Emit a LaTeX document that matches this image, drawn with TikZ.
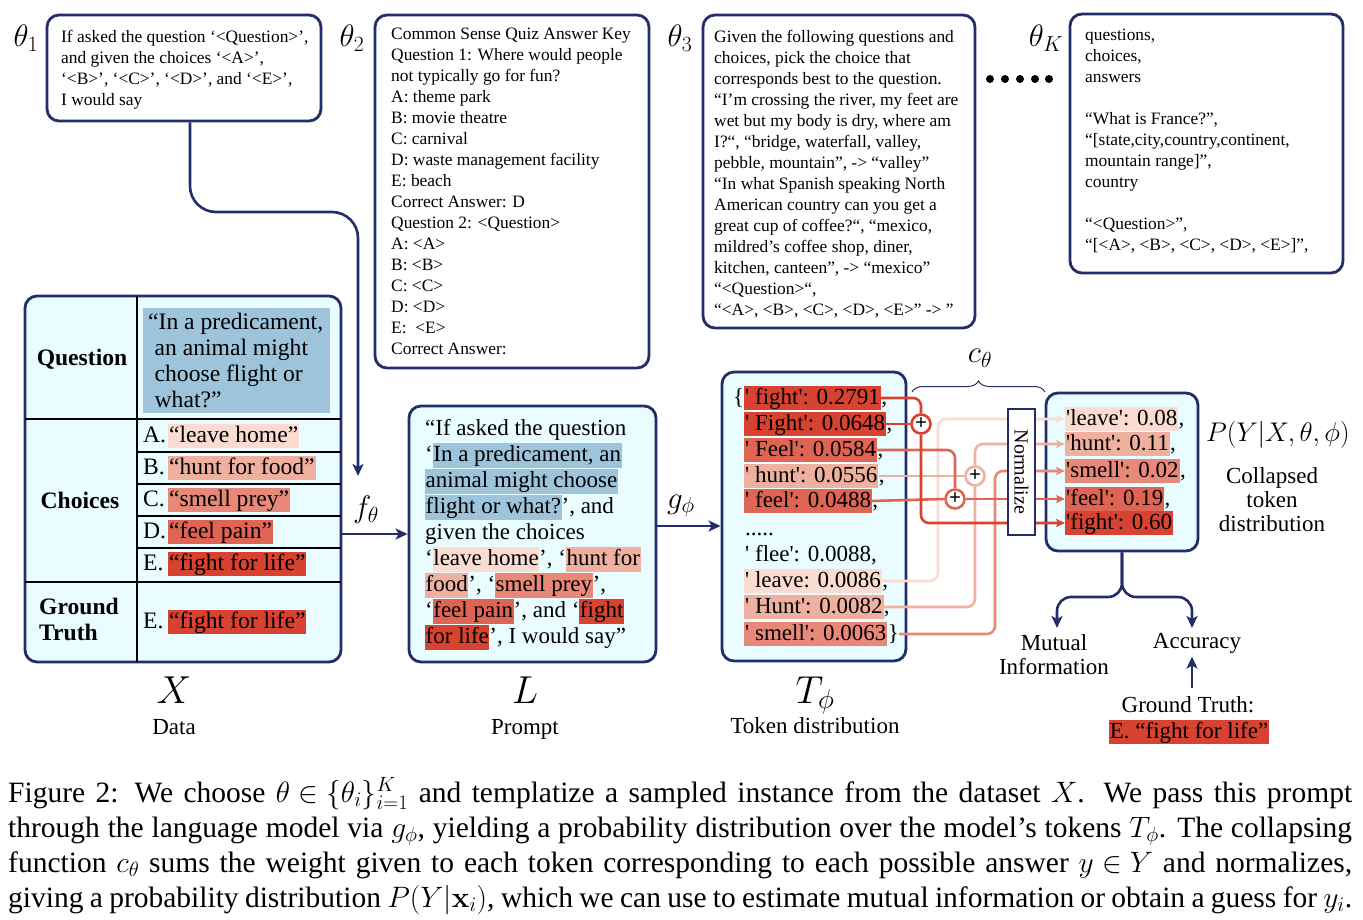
\RequirePackage{fix-cm}
\documentclass[tikz,border=0pt]{standalone}
\usepackage[no-math]{fontspec}
\setmainfont{Liberation Serif}
\newfontfamily\tokfont{Liberation Serif}
\usetikzlibrary{arrows.meta,decorations.pathreplacing,calc}
\definecolor{navy}{RGB}{35,45,105}
\definecolor{boxfill}{RGB}{233,252,255}
\definecolor{qblue}{RGB}{158,196,219}
\definecolor{cLeave}{RGB}{250,220,208}
\definecolor{cHunt}{RGB}{240,176,160}
\definecolor{cSmell}{RGB}{232,136,120}
\definecolor{cFeel}{RGB}{224,100,84}
\definecolor{cFight}{RGB}{216,66,48}
\newcommand{\fsBig}{\fontsize{23}{26}\selectfont}
\newcommand{\fsTab}{\fontsize{23.6}{26}\selectfont}
\newcommand{\fsSmall}{\fontsize{17.4}{21}\selectfont}
\newcommand{\hlbox}[2]{{\setlength{\fboxsep}{0.5pt}\colorbox{#1}{\rule[-6pt]{0pt}{24pt}#2}}}
\begin{document}
\begin{tikzpicture}[x=1pt,y=-1pt, font=\fsBig,
  box/.style={draw=navy, line width=2.8pt, rounded corners=12pt, inner sep=0pt},
  hl/.style={inner xsep=1pt, inner ysep=0pt, text height=18pt, text depth=6pt, anchor=base west},
  txt/.style={inner sep=0pt, anchor=base west},
  tok/.style={font=\fsBig\tokfont},
  tab/.style={font=\fsTab},
  conn/.style={line width=2.6pt, rounded corners=8pt},
  narrow/.style={draw=navy, line width=2.6pt, -{Stealth[length=12pt,width=11pt,inset=3pt]}},
  rtip/.style={-{Stealth[length=9pt,width=8pt,inset=2pt]}},
  plusc/.style={circle, draw, fill=white, line width=2.6pt, minimum size=19pt, inner sep=0pt, font=\fontsize{21}{21}\selectfont\bfseries},
  grid/.style={line width=2pt, black},
  lab/.style={font=\fontsize{31}{33}\selectfont},
]
\useasboundingbox (0,0) rectangle (1363,919);

% ---------- top template boxes ----------
\node[box, fill=white, minimum width=274pt, minimum height=106pt] (t1box) at (184,68) {};
\node[txt] (t1txt) at (61,42) {\parbox[t]{300pt}{\fsSmall If asked the question ‘<Question>’,\\ and given the choices ‘<A>’,\\ ‘<B>’, ‘<C>’, ‘<D>’, and ‘<E>’,\\ I would say}};
\node[lab] (th1) at (26,38) {$\theta_1$};

\node[box, fill=white, minimum width=274pt, minimum height=353pt] (t2box) at (512,191.5) {};
\node[txt] (t2txt) at (391,39) {\parbox[t]{300pt}{\fsSmall Common Sense Quiz Answer Key\\ Question 1: Where would people\\ not typically go for fun?\\ A: theme park\\ B: movie theatre\\ C: carnival\\ D: waste management facility\\ E: beach\\ Correct Answer: D\\ Question 2: <Question>\\ A: <A>\\ B: <B>\\ C: <C>\\ D: <D>\\ E:\ \ <E>\\ Correct Answer:}};
\node[lab] (th2) at (352,38) {$\theta_2$};

\node[box, fill=white, minimum width=272pt, minimum height=313pt] (t3box) at (839,171.5) {};
\node[txt] (t3txt) at (714,42) {\parbox[t]{300pt}{\fsSmall Given the following questions and\\ choices, pick the choice that\\ corresponds best to the question.\\ “I’m crossing the river, my feet are\\ wet but my body is dry, where am\\ I?“, “bridge, waterfall, valley,\\ pebble, mountain”, -> “valley”\\ “In what Spanish speaking North\\ American country can you get a\\ great cup of coffee?“, “mexico,\\ mildred’s coffee shop, diner,\\ kitchen, canteen”, -> “mexico”\\ “<Question>“,\\ “<A>, <B>, <C>, <D>, <E>” -> ”}};
\node[lab] (th3) at (680,38) {$\theta_3$};

\fill (990,79) circle (4pt) (1005,79) circle (4pt) (1020,79) circle (4pt) (1035,79) circle (4pt) (1049,79) circle (4pt);

\node[box, fill=white, minimum width=273pt, minimum height=259pt] (tKbox) at (1206.5,143.5) {};
\node[txt] (tKtxt) at (1085,40) {\parbox[t]{300pt}{\fsSmall questions,\\ choices,\\ answers\\[21pt] “What is France?”,\\ “[state,city,country,continent,\\ mountain range]”,\\ country\\[21pt] “<Question>”,\\ “[<A>, <B>, <C>, <D>, <E>]”,}};
\node[lab] (thK) at (1046,38) {$\theta_K$};

% ---------- main boxes ----------
\node[box, fill=boxfill, minimum width=316pt, minimum height=366pt] (Xbox) at (183,479) {};
\node[box, fill=boxfill, minimum width=247pt, minimum height=256pt] (Lbox) at (532.5,534) {};
\node[box, fill=boxfill, minimum width=184pt, minimum height=289pt] (Tbox) at (814,516.5) {};
\node[box, fill=boxfill, minimum width=152pt, minimum height=158pt] (res) at (1122,472) {};

% ---------- X table ----------
\draw[grid] (137,296) -- (137,662);
\draw[grid] (25,419) -- (341,419);
\draw[grid] (25,582) -- (341,582);
\draw[grid] (137,452) -- (341,452);
\draw[grid] (137,484) -- (341,484);
\draw[grid] (137,516) -- (341,516);
\draw[grid] (137,548) -- (341,548);

\node[fill=qblue, minimum width=187pt, minimum height=105pt, inner sep=0pt] (qhl) at (236.5,360.5) {};
\node[txt, tab] (qtxt) at (148,329) {\parbox[t]{200pt}{“In a predicament,\\ \hspace*{6.5pt}an animal might\\ \hspace*{6.5pt}choose flight or\\ \hspace*{6.5pt}what?”}};
\node[anchor=base, inner sep=0pt, tab] (lq) at (82,365) {\bfseries Question};
\node[anchor=base, inner sep=0pt, tab] (lc) at (80,508) {\bfseries Choices};
\node[txt, tab] (lg) at (39,614) {\parbox[t]{100pt}{\bfseries Ground\\Truth}};

\node[txt, tab] (ca) at (143,442) {A.};
\node[hl, tab, fill=cLeave] (ha) at (168,442) {“leave home”};
\node[txt, tab] (cb) at (143,474) {B.};
\node[hl, tab, fill=cHunt] (hb) at (168,474) {“hunt for food”};
\node[txt, tab] (cc) at (143,506) {C.};
\node[hl, tab, fill=cSmell] (hc) at (168,506) {“smell prey”};
\node[txt, tab] (cd) at (143,538) {D.};
\node[hl, tab, fill=cFeel] (hd) at (168,538) {“feel pain”};
\node[txt, tab] (ce) at (143,570) {E.};
\node[hl, tab, fill=cFight] (he) at (168,570) {“fight for life”};
\node[txt, tab] (cg) at (143,628) {E.};
\node[hl, tab, fill=cFight] (hg) at (168,628) {“fight for life”};

\node[anchor=base] (xl) at (174,703) {\fontsize{39}{40}\selectfont$X$};
\node[anchor=base] (xd) at (174,734) {Data};

% ---------- theta connector and f arrow ----------
\coordinate (c1) at (358,212);
\coordinate (ftip) at (358,476);
\draw[narrow, rounded corners=26pt] ($(t1box.south)+(6,0)$) |- (c1) -- (ftip);
\node[lab] (flab) at (366,510) {$f_\theta$};
\draw[narrow] (Xbox.east |- Lbox.west) -- (Lbox.west);

% ---------- prompt ----------
\node[txt] (ptxt) at (425,435) {\parbox[t]{240pt}{“If asked the question\\ ‘\hlbox{qblue}{In a predicament, an}\\ \hlbox{qblue}{animal might choose}\\ \hlbox{qblue}{flight or what?}’, and\\ given the choices\\ ‘\hlbox{cLeave}{leave home}’, ‘\hlbox{cHunt}{hunt for}\\ \hlbox{cHunt}{food}’, ‘\hlbox{cSmell}{smell prey}’,\\ ‘\hlbox{cFeel}{feel pain}’, and ‘\hlbox{cFight}{fight}\\ \hlbox{cFight}{for life}’, I would say”}};
\node[anchor=base] (ll) at (525,703) {\fontsize{39}{40}\selectfont$L$};
\node[anchor=base] (lp) at (525,734) {Prompt};

\coordinate (gy) at (0,526);
\node[lab] (glab) at (681,506) {$g_\phi$};
\draw[narrow] (Lbox.east |- gy) -- (Tbox.west |- gy);

% ---------- token distribution ----------
\node[txt, tok] (tbr) at (733,404) {\{};
\node[hl, tok, fill=cFight] (tf1) at (744,404) {' fight': 0.2791};
\node[txt, tok] (k1) at (tf1.base east) {,};
\node[hl, tok, fill=cFight] (tF2) at (744,430) {' Fight': 0.0648};
\node[txt, tok] (k2) at (tF2.base east) {,};
\node[hl, tok, fill=cFeel] (tF3) at (744,456) {' Feel': 0.0584};
\node[txt, tok] (k3) at (tF3.base east) {,};
\node[hl, tok, fill=cHunt] (th4) at (744,482) {' hunt': 0.0556};
\node[txt, tok] (k4) at (th4.base east) {,};
\node[hl, tok, fill=cFeel] (tf5) at (744,507) {' feel': 0.0488};
\node[txt, tok] (k5) at (tf5.base east) {,};
\node[txt, tok] (tdots) at (745,535) {.....};
\node[txt, tok] (tflee) at (745,561) {' flee': 0.0088,};
\node[hl, tok, fill=cLeave] (tl7) at (744,587) {' leave: 0.0086};
\node[txt, tok] (k7) at (tl7.base east) {,};
\node[hl, tok, fill=cHunt] (tH8) at (744,613) {' Hunt': 0.0082};
\node[txt, tok] (k8) at (tH8.base east) {,};
\node[hl, tok, fill=cSmell] (ts9) at (744,640) {' smell': 0.0063};
\node[txt, tok] (tcl) at (ts9.base east) {\}};

\node[anchor=base] (tt) at (815,703) {\fontsize{39}{40}\selectfont$T_\phi$};
\node[anchor=base] (td) at (815,733) {Token distribution};

% ---------- collapsed distribution ----------
\node[hl, tok, fill=cLeave] (r1) at (1065,425) {'leave': 0.08};
\node[txt, tok] (q1) at (r1.base east) {,};
\node[hl, tok, fill=cHunt] (r2) at (1065,450) {'hunt': 0.11};
\node[txt, tok] (q2) at (r2.base east) {,};
\node[hl, tok, fill=cSmell] (r3) at (1065,477) {'smell': 0.02};
\node[txt, tok] (q3) at (r3.base east) {,};
\node[hl, tok, fill=cFeel] (r4) at (1065,505) {'feel': 0.19};
\node[txt, tok] (q4) at (r4.base east) {,};
\node[hl, tok, fill=cFight] (r5) at (1065,529) {'fight': 0.60};

% plus circles
\node[plusc, draw=cFight] (p1) at (921,424) {+};
\node[plusc, draw=cHunt] (p2) at (975,476) {+};
\node[plusc, draw=cFeel] (p3) at (955,499) {+};

\coordinate (kL) at (938,419);
\coordinate (kS) at (995,471);
\draw[conn, cLeave, rtip] (tl7.east) -| (kL) -- (r1.west);
\draw[conn, cHunt] (tH8.east) -| (p2.south);
\draw[conn, cHunt] (th4.east) -- (p2.west);
\draw[conn, cHunt, rtip] (p2.north) |- (r2.west);
\draw[conn, cSmell, rtip] (ts9.east -| tcl.east) -| (kS) -- (r3.west);
\draw[conn, cFeel] (tF3.east) -| (p3.north);
\draw[conn, cFeel] (tf5.east) -- (p3.west);
\draw[conn, cFeel, rtip] (p3.east) -- (r4.west);
\draw[conn, cFight] (tf1.east) -| (p1.north);
\draw[conn, cFight] (tF2.east) -- (p1.west);
\draw[conn, cFight, rtip] (p1.south) |- (r5.west);

\node[draw=navy, fill=white, line width=2.6pt, minimum width=126pt, minimum height=27pt, inner sep=0pt, rotate=-90, font=\fontsize{20}{20}\selectfont] (norm) at (1021.5,472) {Normalize};

\draw[navy, line width=1pt, decorate, decoration={brace, amplitude=11pt}] (912,392) -- (1045,392);
\node[lab] (clab) at (980,358) {$c_\theta$};

\node (plab) at (1278,435) {\fontsize{27}{28}\selectfont$P(Y|X,\theta,\phi)$};
\node[align=center, font=\fontsize{23}{24}\selectfont] (ctd) at (1272,500) {Collapsed\\token\\distribution};

% ---------- outputs ----------
\node[align=center, font=\fontsize{23}{24}\selectfont] (mi) at (1054,655) {Mutual\\Information};
\node (acc) at (1197,643) {Accuracy};
\coordinate (fk) at (1122,597);
\coordinate (aMI) at (1057,628);
\coordinate (aAC) at (1192,628);
\draw[narrow, rounded corners=14pt] (res.south) -- (fk) -| (aMI);
\draw[narrow, rounded corners=14pt] (res.south) -- (fk) -| (aAC);

\node[anchor=base, inner sep=0pt] (gtl) at (1188,712) {Ground Truth:};
\node[hl, anchor=base, fill=cFight] (gth) at (1189,738) {E. “fight for life”};
\draw[narrow, shorten <=8pt] (gtl.north -| aAC) -- (acc.south -| aAC);

% ---------- caption ----------
\node[txt, font=\fontsize{29.5}{35}\selectfont] (cap1) at (8,802) {\makebox[1344pt][s]{Figure 2: We choose \mbox{$\theta\in\{\theta_i\}_{i=1}^K$} and templatize a sampled instance from the dataset \mbox{$X$}. We pass this prompt}};
\node[txt, font=\fontsize{29.5}{35}\selectfont] (cap2) at (8,837) {\makebox[1344pt][s]{through the language model via \mbox{$g_\phi$}, yielding a probability distribution over the model’s tokens \mbox{$T_\phi$}. The collapsing}};
\node[txt, font=\fontsize{29.5}{35}\selectfont] (cap3) at (8,872) {\makebox[1344pt][s]{function \mbox{$c_\theta$} sums the weight given to each token corresponding to each possible answer \mbox{$y\in Y$} and normalizes,}};
\node[txt, font=\fontsize{29.5}{35}\selectfont] (cap4) at (8,907) {\makebox[1344pt][s]{giving a probability distribution \mbox{$P(Y|\mathbf{x}_i)$}, which we can use to estimate mutual information or obtain a guess for \mbox{$y_i$}.}};
\end{tikzpicture}
\end{document}
